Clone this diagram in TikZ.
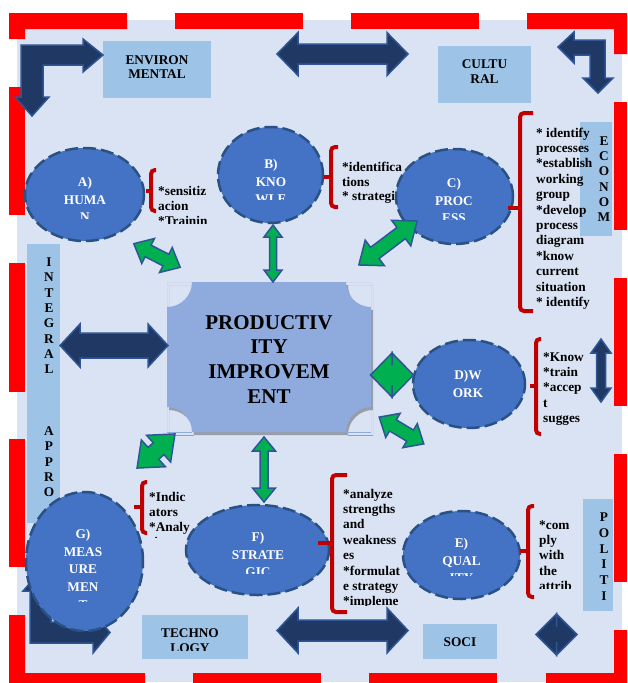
\documentclass[tikz,border=0pt]{standalone}
\usepackage{fontspec}
\setmainfont{Liberation Serif}
\usetikzlibrary{shapes.geometric}
\definecolor{bgc}{HTML}{DAE3F3}
\definecolor{boxc}{HTML}{9DC3E6}
\definecolor{plq}{HTML}{8FAADC}
\definecolor{ellf}{HTML}{4472C4}
\definecolor{elld}{HTML}{2A5183}
\definecolor{navy}{HTML}{203864}
\definecolor{navyb}{HTML}{2F5597}
\definecolor{grn}{HTML}{00B050}
\definecolor{brc}{HTML}{C00000}
\definecolor{redd}{HTML}{FF0000}
\newcommand\stk[4][13.3]{{\bfseries\fontsize{#1}{#2}\selectfont\begin{tabular}[t]{@{}#3@{}}#4\end{tabular}}}
\newcommand\dbl[8]{%
  \begin{scope}[shift={(#1,#2)},rotate=#3]
    \pgfmathsetmacro\dblL{#4/2}\pgfmathsetmacro\dblS{#5/2}%
    \pgfmathsetmacro\dblH{#6/2}\pgfmathsetmacro\dblB{#4/2-#7}%
    \draw[#8] (-\dblL,0) -- (-\dblB,-\dblH) -- (-\dblB,-\dblS) -- (\dblB,-\dblS) -- (\dblB,-\dblH) -- (\dblL,0)
      -- (\dblB,\dblH) -- (\dblB,\dblS) -- (-\dblB,\dblS) -- (-\dblB,\dblH) -- cycle;
  \end{scope}}
\newcommand\rbr[6]{%
  \draw[bracestyle] (#6,#2) -- (#1,#2) -- (#1,#3) -- (#6,#3);
  \draw[draw=brc, line width=4pt] (#1,#4) -- (#5,#4);}
\begin{document}
\begin{tikzpicture}[x=1pt,y=-1pt,
  lbl/.style={inner sep=0pt, anchor=base west},
  clbl/.style={inner sep=0pt, anchor=base},
  boxs/.style={rectangle, fill=boxc, inner sep=0pt, draw=none},
  ell/.style={ellipse, fill=ellf, draw=elld, line width=2.5pt, dash pattern=on 13pt off 5pt, inner sep=0pt},
  navyarrow/.style={fill=navy, draw=navyb, line width=1.5pt},
  grnarrow/.style={fill=grn, draw=navyb, line width=1.5pt},
  bracestyle/.style={draw=brc, line width=4pt, rounded corners=4pt},
  etxt/.style={inner sep=0pt, anchor=base, text=white},
]
\useasboundingbox (0,0) rectangle (627,683);
% background
\fill[bgc] (17,20) rectangle (622,682);
% red dashed frame
\fill[redd] (9,13) -- (127,13) -- (127,29) -- (25,29) -- (25,39) -- (9,39) -- cycle;
\fill[redd] (175,13) rectangle (303,29);
\fill[redd] (351,13) rectangle (479,29);
\fill[redd] (527,13) -- (627,13) -- (627,54) -- (614,54) -- (614,29) -- (527,29) -- cycle;
\fill[redd] (614,102) rectangle (627,230);
\fill[redd] (614,278) rectangle (627,406);
\fill[redd] (614,454) rectangle (627,582);
\fill[redd] (614,630) -- (627,630) -- (627,683) -- (546,683) -- (546,673) -- (614,673) -- cycle;
\fill[redd] (369,673) rectangle (497,683);
\fill[redd] (193,673) rectangle (321,683);
\fill[redd] (9,615) -- (25,615) -- (25,673) -- (145,673) -- (145,683) -- (9,683) -- cycle;
\fill[redd] (9,87) rectangle (25,215);
\fill[redd] (9,263) rectangle (25,392);
\fill[redd] (9,439) rectangle (25,567);
% light boxes
\node[boxs, minimum width=108pt, minimum height=57pt] (envbox) at (157,69.5) {};
\node[boxs, minimum width=93pt, minimum height=57pt] (culbox) at (484.5,74.5) {};
\node[boxs, minimum width=32pt, minimum height=114pt] (ecobox) at (596,179) {};
\node[boxs, minimum width=33pt, minimum height=279pt] (intbox) at (43.5,383.5) {};
\node[boxs, minimum width=30pt, minimum height=112pt] (polbox) at (598,555) {};
\node[boxs, minimum width=106pt, minimum height=44pt] (tecbox) at (195,637) {};
\node[boxs, minimum width=74pt, minimum height=35pt] (socbox) at (460,641.5) {};
% box texts
\node[clbl] (envtxt) at (157,64.4) {\stk{14}{c}{ENVIRON\\MENTAL}};
\node[clbl] (cultxt) at (484.5,68.4) {\stk{15}{c}{CULTU\\RAL}};
\node[clbl] (ecotxt) at (604,145.4) {\stk{15.2}{c}{E\\C\\O\\N\\O\\M}};
\node[clbl] (inttxt) at (49,266.4) {\stk{15.37}{c}{I\\N\\T\\E\\G\\R\\A\\L\\ \\ \\ \\A\\P\\P\\R\\O}};
\node[clbl] (poltxt) at (604,521.4) {\stk{15.8}{c}{P\\O\\L\\I\\T\\I}};
\begin{scope}
  \clip (142,615) rectangle (248,650);
  \node[clbl] (tectxt) at (190,637.4) {\stk{15}{c}{TECHNO\\LOGY}};
\end{scope}
\node[clbl] (soctxt) at (460,646.4) {\stk{15}{c}{SOCI}};
% brace texts
\begin{scope}
  \clip (150,178) rectangle (216,223);
  \node[lbl] (atxt) at (158,195.5) {\stk{15}{l}{*sensitiz\\acion\\{}*Trainin}};
\end{scope}
\begin{scope}
  \clip (335,155) rectangle (402,206);
  \node[lbl] (btxt) at (342,171.5) {\stk{14.7}{l}{*identifica\\tions\\{}* strategies}};
\end{scope}
\node[lbl] (ctxt) at (536,137) {\stk{15.4}{l}{* identify\\processes\\{}*establish\\working\\group\\{}*develop\\process\\diagram\\{}*know\\current\\situation\\{}* identify}};
\node[lbl] (dtxt) at (543,361) {\stk{15.4}{l}{*Know\\{}*train\\{}*accep\\t\\sugges}};
\begin{scope}
  \clip (145,485) rectangle (215,537);
  \node[lbl] (gtxt) at (149,501) {\stk{15}{l}{*Indic\\ators\\{}*Analy\\sis}};
\end{scope}
\begin{scope}
  \clip (338,480) rectangle (420,605);
  \node[lbl] (ftxt) at (343,498) {\stk{15.4}{l}{*analyze\\strengths\\and\\weakness\\es\\{}*formulat\\e strategy\\{}*impleme}};
\end{scope}
\begin{scope}
  \clip (535,512) rectangle (585,588);
  \node[lbl] (etxt) at (539,529) {\stk{15.4}{l}{*com\\ply\\with\\the\\attrib}};
\end{scope}
% bottom-left bent arrow (under G)
\draw[navyarrow] (30,643) -- (93,643) -- (93,653) -- (110,632.5) -- (93,612) -- (93,622) -- (51,622) -- (51,591) -- (58,591) -- (40.5,571) -- (23,591) -- (30,591) -- cycle;
% top bent arrows
\draw[navyarrow] (21,45) -- (83,45) -- (83,39) -- (103,55) -- (83,72) -- (83,65) -- (43,65) -- (43,97) -- (49,97) -- (32,116) -- (15,97) -- (21,97) -- cycle;
\draw[navyarrow] (558,47) -- (574,32) -- (574,40) -- (605,40) -- (605,78) -- (613,78) -- (598,93) -- (583,78) -- (590,78) -- (590,55) -- (574,55) -- (574,63) -- cycle;
% ellipses
\node[ell, minimum width=119pt, minimum height=93pt] (A) at (84.5,194.5) {};
\node[ell, minimum width=105pt, minimum height=96pt] (B) at (270.5,175) {};
\node[ell, minimum width=117pt, minimum height=95pt] (C) at (454.5,196.5) {};
\node[ell, minimum width=112pt, minimum height=88pt] (D) at (469,384) {};
\node[ell, minimum width=117pt, minimum height=88pt] (E) at (461.5,555) {};
\node[ell, minimum width=143pt, minimum height=90pt] (F) at (257.5,550) {};
\node[ell, minimum width=117pt, minimum height=139pt] (G) at (84.5,561.5) {};
% ellipse texts
\begin{scope}
  \clip (40,170) rectangle (130,218);
  \node[etxt] (Atxt) at (85,186.4) {\stk{17.6}{c}{A)\\HUMA\\N}};
\end{scope}
\begin{scope}
  \clip (230,150) rectangle (310,199);
  \node[etxt] (Btxt) at (271,168.4) {\stk{17.6}{c}{B)\\KNO\\WLE}};
\end{scope}
\begin{scope}
  \clip (410,170) rectangle (500,219);
  \node[etxt] (Ctxt) at (454,187.4) {\stk{17.6}{c}{C)\\PROC\\ESS}};
\end{scope}
\node[etxt] (Dtxt) at (468,379.4) {\stk{18}{c}{D)W\\ORK}};
\begin{scope}
  \clip (420,530) rectangle (505,575);
  \node[etxt] (Etxt) at (461.5,547.4) {\stk{17.6}{c}{E)\\QUAL\\ITY}};
\end{scope}
\begin{scope}
  \clip (200,525) rectangle (315,573);
  \node[etxt] (Ftxt) at (258,541.4) {\stk{17.6}{c}{F)\\STRATE\\GIC}};
\end{scope}
\begin{scope}
  \clip (40,520) rectangle (130,601);
  \node[etxt] (Gtxt) at (83,538.4) {\stk{17.7}{c}{G)\\MEAS\\URE\\MEN\\T}};
\end{scope}
% braces
\rbr{151}{170}{211}{191}{146}{156}
\rbr{331}{147}{207}{177}{324}{338}
\rbr{520}{113}{311}{208}{508}{533}
\rbr{536}{339}{434}{386}{530}{541}
\rbr{142}{482}{533}{507}{134}{147}
\rbr{332}{475}{612}{543}{318}{347}
\rbr{528}{506}{597}{551}{520}{534}
% central plaque with shadow
\begin{scope}[shift={(2,3)}]
  \clip (167,282) rectangle (371,432);
  \fill[black, opacity=0.3, even odd rule] (167,282) rectangle (371,432)
    (167,282) circle[radius=25] (371,282) circle[radius=25]
    (167,432) circle[radius=25] (371,432) circle[radius=25];
\end{scope}
\begin{scope}
  \clip (167,282) rectangle (371,432);
  \fill[plq, even odd rule] (167,282) rectangle (371,432)
    (167,282) circle[radius=25] (371,282) circle[radius=25]
    (167,432) circle[radius=25] (371,432) circle[radius=25];
\end{scope}
\node[clbl] (prod) at (269,329) {\stk[21]{24.7}{c}{PRODUCTIV\\ITY\\IMPROVEM\\ENT}};
% double arrows
\dbl{157}{255.5}{-27}{52}{13}{28}{16}{grnarrow}
\dbl{273}{253.5}{90}{57}{7}{18}{12}{grnarrow}
\dbl{388}{243}{37}{73}{14}{32}{20}{grnarrow}
\dbl{392}{375}{0}{43}{20}{44}{21.5}{grnarrow}
\dbl{401.5}{430.5}{-31}{52}{13}{28}{16}{grnarrow}
\dbl{156}{451}{42}{51}{16}{36}{22}{grnarrow}
\dbl{264}{469.5}{90}{65}{8}{23}{14}{grnarrow}
\dbl{342.5}{54}{0}{131}{20}{43}{21}{navyarrow}
\dbl{342.5}{630.5}{0}{131}{21}{45}{21}{navyarrow}
\dbl{114}{345.5}{0}{108}{25}{43}{20}{navyarrow}
\dbl{601}{370.5}{90}{63}{9}{20}{14}{navyarrow}
\dbl{556.5}{634.5}{0}{41}{15}{41}{20.5}{navyarrow}
\end{tikzpicture}
\end{document}
